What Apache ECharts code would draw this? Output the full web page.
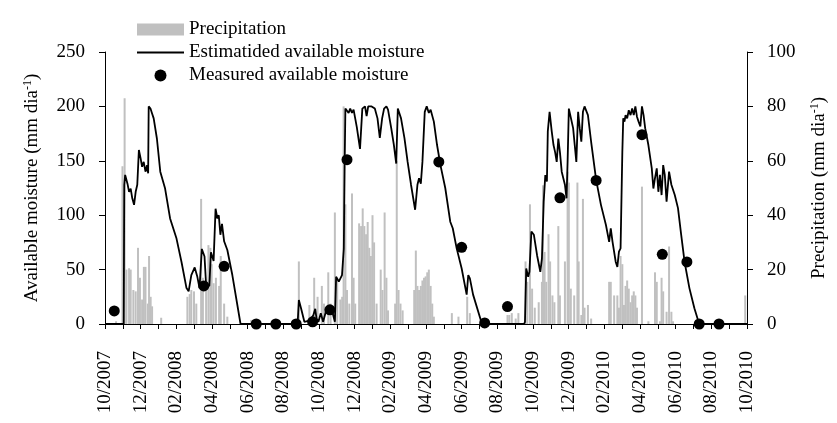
<!DOCTYPE html>
<html lang="en">
<head>
    <meta charset="UTF-8">
    <title>Available moisture</title>
    <script src="https://cdn.jsdelivr.net/npm/echarts@6/dist/echarts.min.js"></script>
    <style>
        html, body { margin: 0; padding: 0; background: #fff; }
        #chart { width: 837px; height: 423px; }
    </style>
</head>
<body>
    <div id="chart"></div>
    <script>
        // x values are months counted from 1 Oct 2007
        var xTickLabels = ['10/2007', '12/2007', '02/2008', '04/2008', '06/2008', '08/2008', '10/2008',
                           '12/2008', '02/2009', '04/2009', '06/2009', '08/2009', '10/2009', '12/2009',
                           '02/2010', '04/2010', '06/2010', '08/2010', '10/2010'];

        // daily precipitation (mm dia-1), right axis
        var precipitation = [
            [0.62, 1], [0.98, 58], [1.10, 83], [1.20, 20], [1.35, 20.5], [1.44, 20], [1.59, 12.5],
            [1.72, 12], [1.85, 28], [1.96, 17], [2.08, 9], [2.18, 21], [2.27, 21], [2.40, 7.5],
            [2.47, 25], [2.56, 10], [2.64, 6.5], [3.15, 2.3],
            [4.62, 10], [4.75, 11], [4.84, 12.5], [4.99, 12], [5.12, 7.5], [5.39, 46], [5.49, 17],
            [5.67, 12.5], [5.80, 29], [5.91, 28], [5.98, 22], [6.09, 15], [6.22, 17], [6.40, 14],
            [6.49, 25], [6.68, 7.5], [6.86, 2.7], [8.2, 1.5],
            [10.87, 23], [11.46, 7], [11.73, 17], [11.92, 10], [12.16, 14], [12.28, 7.5], [12.52, 19],
            [12.65, 7.5], [12.89, 41], [13.02, 17], [13.20, 9], [13.30, 10], [13.38, 80], [13.48, 44],
            [13.57, 12.5], [13.70, 7.5], [13.85, 48], [13.94, 17], [14.03, 7.5], [14.25, 37], [14.36, 36],
            [14.45, 42.5], [14.54, 36], [14.64, 33], [14.73, 37.5], [14.82, 28], [14.91, 25], [15.00, 40],
            [15.09, 30], [15.23, 7.5], [15.46, 20], [15.56, 12.5], [15.68, 41], [15.78, 17], [15.87, 5],
            [16.27, 7.5], [16.36, 60], [16.46, 12.5], [16.57, 7.5], [16.69, 5],
            [17.34, 12.5], [17.43, 27], [17.52, 14], [17.61, 12.5], [17.71, 14], [17.80, 16], [17.89, 17],
            [17.98, 17.5], [18.07, 19], [18.16, 20], [18.26, 14], [18.35, 7.5], [18.44, 2.7],
            [19.45, 4], [19.82, 2.7], [20.31, 10], [20.46, 4],
            [22.57, 3.3], [22.67, 3.3], [22.81, 4], [23.03, 2], [23.18, 4],
            [23.58, 23], [23.68, 15.5], [23.83, 44], [23.95, 13], [24.10, 6], [24.32, 8], [24.50, 15.5],
            [24.56, 51], [24.65, 26.5], [24.74, 15.5], [24.87, 33], [24.96, 23], [25.09, 10.5], [25.20, 8],
            [25.42, 36], [25.51, 10.5], [25.79, 23], [25.94, 56], [26.01, 52], [26.12, 13], [26.31, 10.5],
            [26.49, 52], [26.56, 23], [26.71, 3.3], [26.80, 46], [26.89, 6], [27.08, 7], [27.26, 2],
            [28.27, 15.5], [28.36, 15.5], [28.55, 10.5], [28.73, 10.5], [28.82, 6], [28.91, 25], [29.01, 22],
            [29.10, 7], [29.19, 14], [29.28, 16], [29.37, 13], [29.47, 8], [29.56, 10.5], [29.65, 12],
            [29.74, 10.5], [29.83, 6], [30.11, 50.5], [30.47, 1], [30.84, 19], [30.94, 15.5], [31.12, 1],
            [31.21, 17], [31.30, 12], [31.49, 4.5], [31.63, 28.5], [31.76, 4.5], [31.85, 1],
            [35.9, 10.5]
        ];

        // estimated available moisture (mm dia-1), left axis
        var estimated = [
            [0, 0], [1.05, 0], [1.08, 128], [1.13, 137], [1.26, 129], [1.35, 121.5], [1.44, 124.5],
            [1.53, 115.5], [1.63, 109.5], [1.72, 121.5], [1.81, 128], [1.90, 160], [2.00, 152], [2.08, 144.5],
            [2.17, 149], [2.27, 140], [2.36, 146], [2.42, 138.5], [2.45, 200], [2.55, 198], [2.64, 193.5],
            [2.73, 189], [2.91, 170.5], [3.10, 140], [3.37, 124.5], [3.65, 97], [4.01, 78.5], [4.29, 57],
            [4.57, 33], [4.69, 30], [4.84, 45], [5.03, 52], [5.17, 44], [5.30, 33], [5.43, 69], [5.58, 62],
            [5.67, 36], [5.85, 35], [5.94, 66], [6.09, 58], [6.20, 106], [6.30, 97], [6.38, 100], [6.47, 82],
            [6.56, 92], [6.68, 76], [6.86, 68], [7.14, 45], [7.60, 0],
            [10.80, 0], [10.87, 22], [11.00, 14], [11.18, 2], [11.46, 3], [11.55, 5], [11.68, 8], [11.79, 14],
            [11.86, 5], [11.97, 2], [12.10, 10], [12.23, 2], [12.38, 11], [12.56, 14], [12.75, 11], [12.89, 2],
            [12.96, 43.5], [13.11, 39], [13.20, 37.5], [13.29, 45], [13.39, 69], [13.44, 149], [13.48, 198],
            [13.57, 196], [13.66, 194], [13.75, 198], [13.85, 194], [13.94, 197], [14.03, 189], [14.12, 181],
            [14.30, 161], [14.43, 198], [14.58, 200], [14.67, 191], [14.76, 200], [14.95, 200], [15.13, 198],
            [15.28, 189], [15.41, 171], [15.54, 189], [15.65, 198], [15.78, 200], [15.87, 197], [16.05, 180],
            [16.20, 164.5], [16.33, 147.5], [16.42, 198], [16.51, 198], [16.60, 189], [16.79, 171], [16.97, 149],
            [17.16, 128], [17.39, 105], [17.52, 128], [17.61, 134], [17.71, 129], [17.80, 149], [17.93, 195],
            [18.04, 200], [18.16, 194], [18.26, 197], [18.44, 186], [18.62, 164.5], [18.81, 146], [19.08, 125],
            [19.36, 94], [19.50, 88], [19.72, 69.5], [20.00, 51], [20.28, 27], [20.37, 45], [20.46, 42],
            [20.64, 27], [21.10, 2], [21.25, 0],
            [23.50, 0], [23.55, 2], [23.62, 51], [23.73, 43.5], [23.80, 48], [23.91, 85], [24.05, 82],
            [24.23, 63], [24.41, 48], [24.50, 60], [24.60, 112.5], [24.69, 137], [24.78, 131], [24.83, 177],
            [24.93, 195], [25.05, 177], [25.15, 164.5], [25.24, 158], [25.33, 149], [25.42, 170.5], [25.51, 158],
            [25.61, 140], [25.79, 128], [25.88, 115.5], [25.94, 149], [26.01, 198], [26.12, 198], [26.25, 180],
            [26.34, 164.5], [26.43, 149], [26.53, 195], [26.62, 180], [26.71, 167.5], [26.80, 195], [26.89, 200],
            [27.08, 192], [27.26, 167.5], [27.54, 132.5], [27.81, 109.5], [28.09, 91], [28.27, 75.5], [28.36, 88],
            [28.46, 75.5], [28.64, 57], [28.73, 52.5], [28.82, 66.5], [28.91, 69.5], [29.01, 158.5], [29.06, 189],
            [29.13, 186], [29.19, 192], [29.28, 189], [29.37, 196.5], [29.47, 192], [29.56, 198], [29.65, 192],
            [29.74, 200], [29.83, 190.5], [29.92, 186], [30.02, 181.5], [30.11, 200], [30.20, 192], [30.29, 180],
            [30.47, 164.5], [30.66, 143], [30.75, 124.5], [30.84, 134], [30.94, 143], [31.03, 121.5], [31.12, 137],
            [31.21, 118.5], [31.30, 146], [31.39, 137], [31.49, 112.5], [31.63, 140], [31.76, 128], [31.95, 118.5],
            [32.13, 106.5], [32.31, 82], [32.50, 57], [32.77, 33], [33.05, 14.5], [33.32, 0], [36, 0]
        ];

        // measured available moisture (mm dia-1), left axis
        var measured = [
            [0.52, 12], [5.54, 35], [6.68, 53], [8.48, 0], [9.58, 0], [10.72, 0], [11.64, 2], [12.61, 13],
            [13.57, 151], [18.72, 149], [20.00, 70.5], [21.29, 1], [22.57, 16], [25.51, 116], [27.54, 132],
            [30.11, 174], [31.25, 64], [32.63, 57], [33.32, 0], [34.43, 0]
        ];

        var font = 'Liberation Serif';
        var chart = echarts.init(document.getElementById('chart'));
        var option = {
            backgroundColor: '#fff',
            animation: false,
            textStyle: { fontFamily: font, color: '#000' },
            legend: {
                orient: 'vertical',
                left: 137,
                top: 20,
                padding: 0,
                itemGap: 4,
                itemWidth: 47,
                itemHeight: 12,
                textStyle: { fontFamily: font, fontSize: 19, color: '#000' },
                data: [
                    { name: 'Precipitation', icon: 'rect' },
                    { name: 'Estimatided available moisture', icon: 'path://M0,0 h100 v4 h-100 z' },
                    { name: 'Measured available moisture', icon: 'circle' }
                ]
            },
            grid: { left: 105, right: 79, top: 52, bottom: 99 },
            xAxis: {
                type: 'value',
                min: 0,
                max: 36,
                interval: 1,
                splitLine: { show: false },
                axisLine: { onZero: false, lineStyle: { color: '#000', width: 1 } },
                axisTick: { show: true, inside: false, length: 5, lineStyle: { color: '#000' } },
                axisLabel: {
                    rotate: 90,
                    margin: 27,
                    fontFamily: font,
                    fontSize: 19,
                    color: '#000',
                    formatter: function (v) {
                        return v % 2 === 0 ? xTickLabels[v / 2] : '';
                    }
                }
            },
            yAxis: [
                {
                    type: 'value',
                    min: 0,
                    max: 250,
                    interval: 50,
                    name: 'Available moisture (mm dia{sup|-1})',
                    nameLocation: 'middle',
                    nameRotate: 90,
                    nameGap: 62,
                    nameTextStyle: {
                        fontFamily: font, fontSize: 19, color: '#000',
                        rich: { sup: { fontFamily: font, fontSize: 12, color: '#000', padding: [0, 0, 9, 0] } }
                    },
                    splitLine: { show: false },
                    axisLine: { show: true, lineStyle: { color: '#000', width: 1 } },
                    axisTick: { show: true, inside: false, length: 6, lineStyle: { color: '#000' } },
                    axisLabel: { margin: 20, fontFamily: font, fontSize: 19, color: '#000' }
                },
                {
                    type: 'value',
                    min: 0,
                    max: 100,
                    interval: 20,
                    position: 'right',
                    name: 'Precipitation (mm dia{sup|-1})',
                    nameLocation: 'middle',
                    nameRotate: 90,
                    nameGap: 62,
                    nameTextStyle: {
                        fontFamily: font, fontSize: 19, color: '#000',
                        rich: { sup: { fontFamily: font, fontSize: 12, color: '#000', padding: [0, 0, 9, 0] } }
                    },
                    splitLine: { show: false },
                    axisLine: { show: true, lineStyle: { color: '#000', width: 1 } },
                    axisTick: { show: true, inside: false, length: 6, lineStyle: { color: '#000' } },
                    axisLabel: { margin: 20, fontFamily: font, fontSize: 19, color: '#000' }
                }
            ],
            series: [
                {
                    name: 'Precipitation',
                    type: 'bar',
                    yAxisIndex: 1,
                    barWidth: 2,
                    itemStyle: { color: '#c0c0c0' },
                    data: precipitation
                },
                {
                    name: 'Estimatided available moisture',
                    type: 'line',
                    yAxisIndex: 0,
                    symbol: 'none',
                    lineStyle: { color: '#000', width: 1.8 },
                    itemStyle: { color: '#000' },
                    data: estimated
                },
                {
                    name: 'Measured available moisture',
                    type: 'scatter',
                    yAxisIndex: 0,
                    symbol: 'circle',
                    symbolSize: 11,
                    itemStyle: { color: '#000', opacity: 1 },
                    data: measured
                }
            ]
        };
        chart.setOption(option);
    </script>
</body>
</html>
